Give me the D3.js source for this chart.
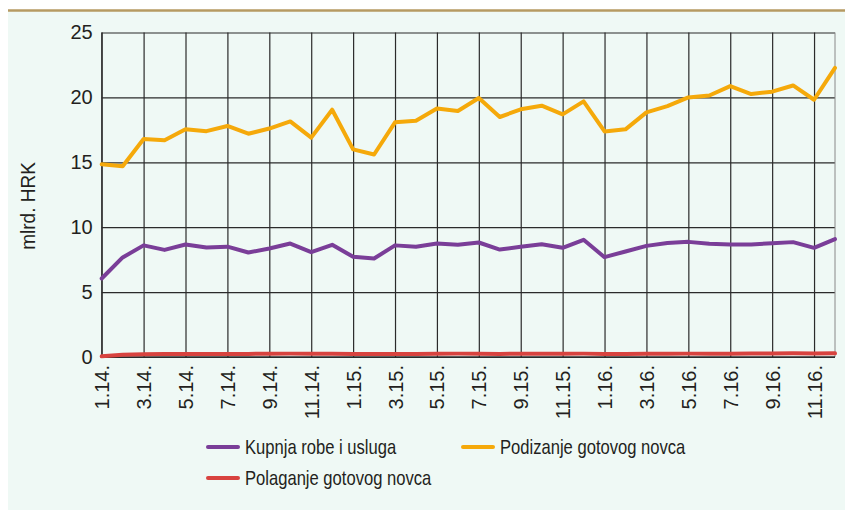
<!DOCTYPE html>
<html>
<head>
<meta charset="utf-8">
<script src="https://cdn.jsdelivr.net/npm/d3@7"></script>
<style>
  body { margin: 0; background: #fff; }
  text { font-family: "Liberation Sans Narrow", "Arial Narrow", "Liberation Sans", sans-serif; fill: #231f20; }
</style>
</head>
<body>
<script>
// mjesecne vrijednosti, 1.14. - 12.16.
var months = ["1.14.","2.14.","3.14.","4.14.","5.14.","6.14.","7.14.","8.14.","9.14.","10.14.","11.14.","12.14.",
              "1.15.","2.15.","3.15.","4.15.","5.15.","6.15.","7.15.","8.15.","9.15.","10.15.","11.15.","12.15.",
              "1.16.","2.16.","3.16.","4.16.","5.16.","6.16.","7.16.","8.16.","9.16.","10.16.","11.16.","12.16."];

var kupnja = [6.05, 7.67, 8.6, 8.25, 8.67, 8.43, 8.5, 8.05, 8.36, 8.74, 8.08, 8.64,
              7.72, 7.59, 8.6, 8.5, 8.74, 8.64, 8.82, 8.28, 8.49, 8.69, 8.41, 9.03,
              7.69, 8.13, 8.56, 8.79, 8.87, 8.72, 8.67, 8.67, 8.77, 8.85, 8.41, 9.08];

var podizanje = [14.85, 14.7, 16.8, 16.7, 17.54, 17.4, 17.8, 17.2, 17.6, 18.15, 16.9, 19.05,
                 16.0, 15.6, 18.08, 18.2, 19.15, 18.95, 19.95, 18.49, 19.08, 19.36, 18.69, 19.69,
                 17.38, 17.54, 18.85, 19.33, 20.0, 20.15, 20.87, 20.26, 20.44, 20.92, 19.82, 22.28];

var polaganje = [0.05, 0.18, 0.22, 0.23, 0.23, 0.24, 0.24, 0.24, 0.25, 0.26, 0.26, 0.25,
                 0.24, 0.23, 0.24, 0.24, 0.25, 0.26, 0.26, 0.24, 0.25, 0.25, 0.25, 0.26,
                 0.24, 0.24, 0.25, 0.25, 0.26, 0.26, 0.26, 0.27, 0.27, 0.28, 0.27, 0.28];

var yTicks = [0, 5, 10, 15, 20, 25];

var series = [
  {name: "Kupnja robe i usluga", values: kupnja, color: "#7a3e98"},
  {name: "Podizanje gotovog novca", values: podizanje, color: "#f5a90a"},
  {name: "Polaganje gotovog novca", values: polaganje, color: "#d8433f"}
];

var W = 845, H = 510;
var margin = {top: 32.5, right: 10, bottom: 153, left: 101.7},
    width = W - margin.left - margin.right,
    height = H - margin.top - margin.bottom;

var svg = d3.select("body").append("svg")
    .attr("width", W)
    .attr("height", H);

// pozadina i gornja crta
svg.append("rect")
    .attr("x", 8).attr("y", 11)
    .attr("width", W - 8).attr("height", H - 11)
    .style("fill", "#eff9f5");

svg.append("line")
    .attr("x1", 8).attr("x2", W)
    .attr("y1", 10.5).attr("y2", 10.5)
    .style("stroke", "#b69a62")
    .style("stroke-width", 2.5);

var g = svg.append("g")
    .attr("transform", "translate(" + margin.left + "," + margin.top + ")");

var x = d3.scaleLinear()
    .domain([0, months.length - 1])
    .range([0, width]);
var y = d3.scaleLinear()
    .domain([0, 25])
    .range([height, 0]);

// mreza
var xIdx = d3.range(0, months.length, 2);

var xAxis = d3.axisBottom(x)
    .tickValues(xIdx)
    .tickSize(height)
    .tickFormat(function (i) { return months[i]; });

var yAxis = d3.axisLeft(y)
    .tickValues(yTicks)
    .tickSize(-width)
    .tickPadding(9);

g.append("g")
    .attr("class", "x axis")
    .call(xAxis)
    .call(function (a) {
      a.select(".domain").remove();
      a.selectAll("line").style("stroke", "#2b2b2b").style("stroke-width", 1.2);
      a.selectAll("text")
        .attr("transform", "rotate(-90)")
        .attr("x", -(height + 8))
        .attr("y", 0)
        .attr("dy", "0.35em")
        .style("text-anchor", "end")
        .style("font-size", "20px");
    });

g.append("g")
    .attr("class", "y axis")
    .call(yAxis)
    .call(function (a) {
      a.select(".domain").remove();
      a.selectAll("line").style("stroke", "#2b2b2b").style("stroke-width", 1.2);
      a.selectAll("text").style("font-size", "20px");
    });

// okvir
g.append("line")
    .attr("x1", 0).attr("x2", 0)
    .attr("y1", 0).attr("y2", height)
    .style("stroke", "#2b2b2b");
g.append("line")
    .attr("x1", width).attr("x2", width)
    .attr("y1", 0).attr("y2", height)
    .style("stroke", "#888");
g.append("line")
    .attr("x1", 0).attr("x2", width)
    .attr("y1", height).attr("y2", height)
    .style("stroke", "#2b2b2b")
    .style("stroke-width", 1.5);

var line = d3.line()
    .x(function (d, i) { return x(i); })
    .y(function (d) { return y(d); });

g.selectAll(".series")
    .data(series)
    .enter().append("path")
    .attr("class", "series")
    .attr("d", function (d) { return line(d.values); })
    .style("fill", "none")
    .style("stroke", function (d) { return d.color; })
    .style("stroke-width", 4)
    .style("stroke-linejoin", "round")
    .style("stroke-linecap", "round");

// oznaka osi
svg.append("text")
    .attr("transform", "translate(28,206) rotate(-90) scale(0.95,1)")
    .attr("dy", "0.35em")
    .style("text-anchor", "middle")
    .style("font-size", "20px")
    .text("mlrd. HRK");

// legenda
var legendPos = [[208, 447], [463, 447], [208, 478]];

var legend = svg.selectAll(".legend")
    .data(series)
    .enter().append("g")
    .attr("class", "legend")
    .attr("transform", function (d, i) { return "translate(" + legendPos[i][0] + "," + legendPos[i][1] + ")"; });

legend.append("line")
    .attr("x1", 0).attr("x2", 30)
    .style("stroke", function (d) { return d.color; })
    .style("stroke-width", 4)
    .style("stroke-linecap", "round");

// uzi font nije dostupan, pa se tekst stisne vodoravno
legend.append("text")
    .attr("transform", "translate(37,0) scale(0.83,1)")
    .attr("dy", "0.35em")
    .style("font-size", "20px")
    .text(function (d) { return d.name; });
</script>
</body>
</html>
